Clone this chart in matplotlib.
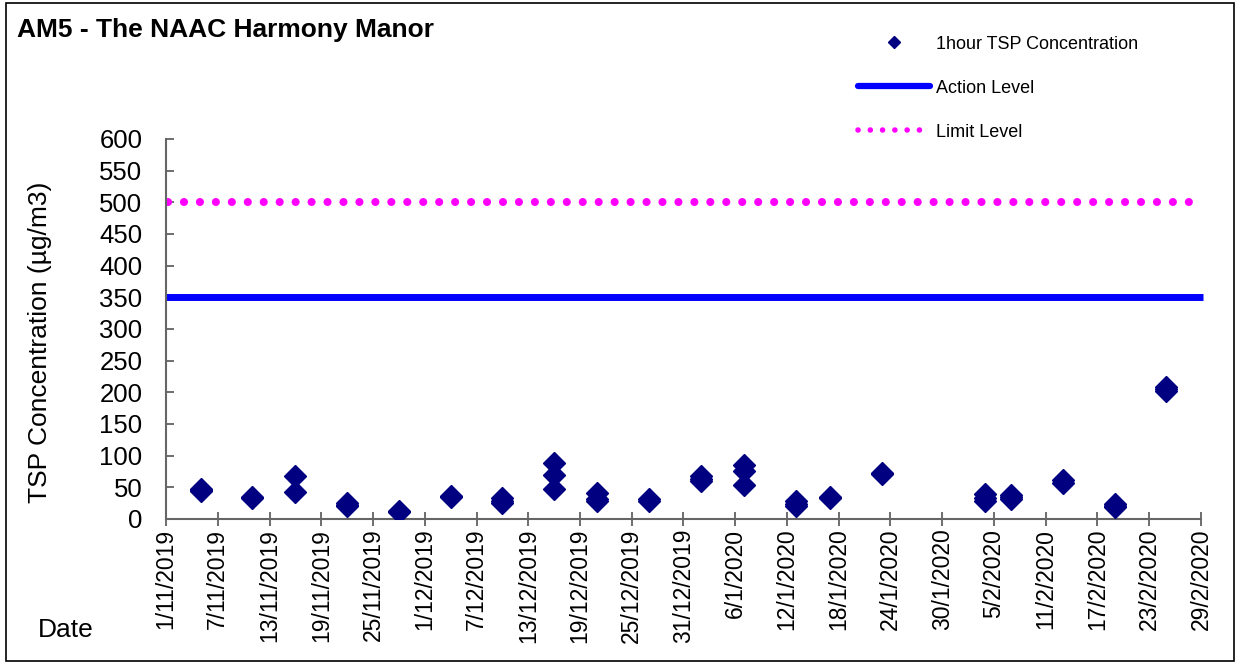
import matplotlib
matplotlib.use("Agg")
import matplotlib.pyplot as plt
import matplotlib.dates as mdates
from matplotlib.lines import Line2D
from matplotlib.patches import Rectangle
import pandas as pd

plt.rcParams['font.family'] = ['Liberation Sans', 'DejaVu Sans']

# 1-hour TSP samples (date, value in ug/m3)
sample_dates = ['2019-11-05', '2019-11-05', '2019-11-05',
                '2019-11-11', '2019-11-11',
                '2019-11-16', '2019-11-16',
                '2019-11-22', '2019-11-22', '2019-11-22',
                '2019-11-28', '2019-11-28',
                '2019-12-04', '2019-12-04',
                '2019-12-10', '2019-12-10', '2019-12-10',
                '2019-12-16', '2019-12-16', '2019-12-16',
                '2019-12-21', '2019-12-21', '2019-12-21',
                '2019-12-27', '2019-12-27',
                '2020-01-02', '2020-01-02', '2020-01-02',
                '2020-01-07', '2020-01-07', '2020-01-07',
                '2020-01-13', '2020-01-13', '2020-01-13',
                '2020-01-17', '2020-01-17',
                '2020-01-23', '2020-01-23',
                '2020-02-04', '2020-02-04', '2020-02-04',
                '2020-02-07', '2020-02-07', '2020-02-07',
                '2020-02-13', '2020-02-13',
                '2020-02-19', '2020-02-19', '2020-02-19',
                '2020-02-25', '2020-02-25', '2020-02-25']
tsp_values = [48, 44, 46,
              35, 33,
              68, 42,
              25, 20, 22,
              13, 11,
              36, 34,
              33, 25, 28,
              88, 70, 48,
              41, 28, 32,
              31, 28,
              68, 60, 63,
              85, 76, 53,
              28, 20, 24,
              34, 33,
              72, 71,
              40, 33, 28,
              38, 32, 35,
              62, 57,
              24, 19, 21,
              208, 202, 205]

action_level = 350
limit_level = 500
x_start = '2019-11-01'
x_end = '2020-02-29'

dates = pd.to_datetime(sample_dates)
ticks = pd.date_range(x_start, x_end, freq='6D')
tick_labels = [f"{d.day}/{d.month}/{d.year}" for d in ticks]

fig = plt.figure(figsize=(12.4, 6.64), dpi=100, facecolor='white')
fig.patches.append(Rectangle((0.005, 0.005), 0.99, 0.99, transform=fig.transFigure,
                             fill=False, edgecolor='black', linewidth=1.2))
ax = fig.add_axes([0.1339, 0.2184, 0.8346, 0.5723])

x0 = mdates.date2num(pd.Timestamp(x_start))
x1 = mdates.date2num(pd.Timestamp(x_end))

ax.plot([x0, x1 + 0.2], [action_level, action_level], color='#0000FF', linewidth=5,
        solid_capstyle='butt', zorder=2, clip_on=False)
ax.plot([x0 + 0.2, x1], [limit_level, limit_level], color='#FF00FF', linewidth=5.8,
        linestyle=(0, (0.01, 1.97)), dash_capstyle='round', zorder=2)
ax.plot(dates, tsp_values, linestyle='none', marker='D', markersize=11,
        markerfacecolor='#000080', markeredgecolor='#000080', zorder=3)

ax.set_xlim(x0, x1)
ax.set_ylim(0, 600)
ax.set_xticks(mdates.date2num(ticks))
ax.set_xticklabels(tick_labels, rotation=90, fontsize=16.5)
ax.set_yticks(range(0, 601, 50))
ax.tick_params(axis='y', labelsize=18.5, direction='in', length=6, width=1.2,
               color='#555555', pad=17)
ax.tick_params(axis='x', direction='inout', length=10, width=1.2, color='#555555', pad=2)

for s in ['top', 'right']:
    ax.spines[s].set_visible(False)
for s in ['left', 'bottom']:
    ax.spines[s].set_color('#666666')
    ax.spines[s].set_linewidth(1.5)

fig.text(40 / 1240, 1 - 342 / 664, 'TSP Concentration (µg/m3)', fontsize=19,
         rotation=90, ha='center', va='center')
fig.text(38 / 1240, 1 - 630 / 664, 'Date', fontsize=19, ha='left', va='center')
fig.text(17 / 1240, 1 - 30 / 664, 'AM5 - The NAAC Harmony Manor', fontsize=19,
         fontweight='bold', ha='left', va='center')

handles = [Line2D([], [], linestyle='none', marker='D', markersize=6,
                  markerfacecolor='#000080', markeredgecolor='#000080'),
           Line2D([], [], color='#0000FF', linewidth=4.5, solid_capstyle='round'),
           Line2D([], [], color='#FF00FF', linewidth=4, linestyle=(0, (0.01, 2.2)),
                  dash_capstyle='round')]
fig.legend(handles, ['1hour TSP Concentration', 'Action Level', 'Limit Level'],
           loc='upper left', bbox_to_anchor=(0.679, 0.971), frameon=False, fontsize=13,
           handlelength=4.0, handletextpad=0.33, labelspacing=1.5)

fig.savefig('out.png', dpi=100, facecolor='white')
